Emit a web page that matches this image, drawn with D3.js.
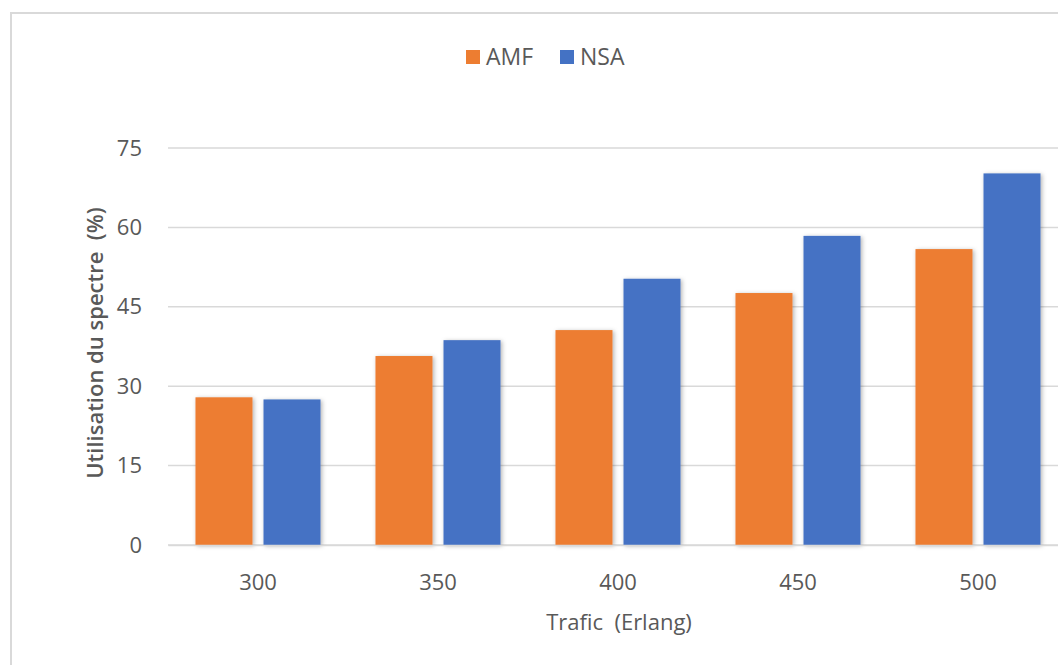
<!DOCTYPE html>
<html>
<head>
<meta charset="utf-8">
<script src="https://cdn.jsdelivr.net/npm/d3@7"></script>
<style>
  html, body { margin: 0; padding: 0; background: #fff; }
  svg { display: block; }
  text { font-family: "Open Sans", sans-serif; fill: #595959; }
</style>
</head>
<body>
<svg id="chart" width="1058" height="665"></svg>
<script>
// Spectrum utilisation (%) per traffic load (Erlang)
const categories = ["300", "350", "400", "450", "500"];
const seriesNames = ["AMF", "NSA"];
const amfValues = [27.9, 35.7, 40.6, 47.6, 55.9];
const nsaValues = [27.5, 38.7, 50.3, 58.4, 70.2];
const yTicks = [0, 15, 30, 45, 60, 75];
const colors = { AMF: "#ED7D31", NSA: "#4472C4" };

const svg = d3.select("#chart");

// soft shadow under each bar
const defs = svg.append("defs");
const f = defs.append("filter").attr("id", "barShadow")
  .attr("x", "-20%").attr("y", "-10%").attr("width", "140%").attr("height", "130%");
f.append("feDropShadow").attr("dx", 1.5).attr("dy", 1).attr("stdDeviation", 2)
  .attr("flood-color", "#000").attr("flood-opacity", 0.3);

// chart frame
svg.append("rect")
  .attr("x", 11).attr("y", 13).attr("width", 1070).attr("height", 680)
  .attr("fill", "#fff").attr("stroke", "#d9d9d9").attr("stroke-width", 2);

const plot = { left: 168, right: 1068, top: 148, bottom: 545 };

const x = d3.scaleBand().domain(categories).range([plot.left, plot.right]).padding(0);
const xs = d3.scaleBand().domain(seriesNames).range([0, x.bandwidth()])
  .paddingInner(0.162).paddingOuter(0.404);
const y = d3.scaleLinear().domain([0, 75]).range([plot.bottom, plot.top]);

// gridlines
svg.append("g").selectAll("line").data(yTicks).join("line")
  .attr("x1", plot.left).attr("x2", plot.right)
  .attr("y1", d => y(d)).attr("y2", d => y(d))
  .attr("stroke", "#d9d9d9").attr("stroke-width", 1.5);

// y axis labels
const yAxis = svg.append("g").attr("transform", `translate(${plot.left},0)`)
  .call(d3.axisLeft(y).tickValues(yTicks).tickSize(0).tickPadding(26));
yAxis.select(".domain").remove();
yAxis.selectAll("text").attr("font-size", 22).attr("fill", "#595959")
  .attr("font-family", "Open Sans");

// bars
const rows = categories.map((c, i) => ({ cat: c, AMF: amfValues[i], NSA: nsaValues[i] }));
const groups = svg.append("g").selectAll("g").data(rows).join("g")
  .attr("transform", d => `translate(${x(d.cat)},0)`);
groups.selectAll("rect").data(d => seriesNames.map(s => ({ s, v: d[s] }))).join("rect")
  .attr("x", d => xs(d.s)).attr("width", xs.bandwidth())
  .attr("y", d => y(d.v)).attr("height", d => y(0) - y(d.v))
  .attr("fill", d => colors[d.s]).attr("filter", "url(#barShadow)");

// x axis
const xAxis = svg.append("g").attr("transform", `translate(0,${plot.bottom})`)
  .call(d3.axisBottom(x).tickSize(0).tickPadding(29));
xAxis.select(".domain").attr("stroke", "#d9d9d9").attr("stroke-width", 1.5);
xAxis.selectAll("text").attr("font-size", 22).attr("fill", "#595959")
  .attr("font-family", "Open Sans");

// axis titles
svg.append("text").attr("x", 619).attr("y", 630).attr("text-anchor", "middle")
  .attr("font-size", 22).attr("xml:space", "preserve").text("Trafic  (Erlang)");
svg.append("text").attr("transform", "translate(103,343) rotate(-90)")
  .attr("text-anchor", "middle").attr("font-size", 22).attr("font-weight", 600)
  .attr("xml:space", "preserve").text("Utilisation du spectre  (%)");

// legend
const legend = svg.append("g").attr("transform", "translate(466,50)");
const items = legend.selectAll("g").data(seriesNames).join("g")
  .attr("transform", (d, i) => `translate(${i * 94},0)`);
items.append("rect").attr("width", 14).attr("height", 14).attr("fill", d => colors[d]);
items.append("text").attr("x", 20).attr("y", 7).attr("dy", "0.36em")
  .attr("font-size", 23).text(d => d);
</script>
</body>
</html>
